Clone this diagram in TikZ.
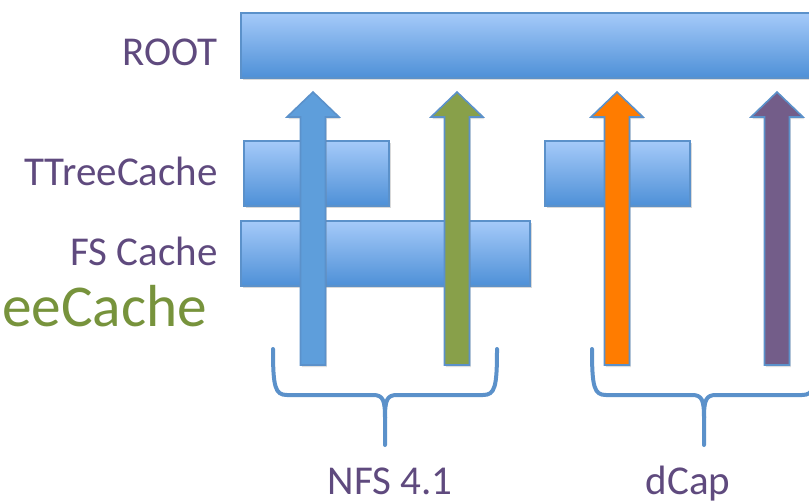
\documentclass[tikz,border=0pt]{standalone}
\usepackage{fontspec}
\setmainfont{Carlito}
\usetikzlibrary{shadows}
\definecolor{labelpurple}{HTML}{5F4A7E}
\definecolor{labelgreen}{HTML}{77933C}
\definecolor{boxtop}{HTML}{A5CAF9}
\definecolor{boxbottom}{HTML}{4E90D7}
\definecolor{edgeblue}{HTML}{5B91CA}
\definecolor{arrowblue}{HTML}{5E9EDB}
\definecolor{arrowgreen}{HTML}{88A04A}
\definecolor{arroworange}{HTML}{FF7C00}
\definecolor{arrowpurple}{HTML}{735D89}

\begin{document}
\begin{tikzpicture}[x=0.75pt, y=-0.75pt,
  cachebox/.style={draw=edgeblue, line width=1.2pt, top color=boxtop, bottom color=boxbottom,
    anchor=north west, inner sep=0pt, minimum height=48.75pt,
    drop shadow={opacity=0.3, shadow xshift=1.5pt, shadow yshift=-2pt}},
  lbl/.style={anchor=base east, text=labelpurple, font=\fontsize{30.75}{36}\selectfont, inner sep=0pt},
  blockarrow/.style={draw=edgeblue, line width=1.2pt,
    drop shadow={opacity=0.25, shadow xshift=1pt, shadow yshift=-1.5pt}},
  bracket/.style={draw=edgeblue, line width=3pt, line cap=round}]

  \useasboundingbox (0,0) rectangle (809,503);

  % Cache layers
  \node[cachebox, minimum width=442.5pt] (root) at (240,12) {};
  \node[cachebox, minimum width=108.75pt] (tcnfs) at (243,140) {};
  \node[cachebox, minimum width=108.75pt] (tcdcap) at (544,140) {};
  \node[cachebox, minimum width=216.75pt] (fs) at (240,220) {};

  % Layer labels
  \node[lbl] (rootlbl) at (218,65) {ROOT};
  \node[lbl] (tclbl) at (218,185) {TTreeCache};
  \node[lbl] (fslbl) at (218,265) {FS Cache};
  \node[anchor=base west, text=labelgreen, font=\fontsize{44.5}{50}\selectfont, inner sep=0pt]
    (eelbl) at (2,326) {eeCache};

  % Read paths up to ROOT
  \foreach \ax/\acol in {313/arrowblue, 457/arrowgreen, 617/arroworange, 777/arrowpurple} {
    \draw[blockarrow, fill=\acol] (\ax-12.5,365) -- (\ax-12.5,117) -- (\ax-26,117) -- (\ax,92)
      -- (\ax+26,117) -- (\ax+12.5,117) -- (\ax+12.5,365) -- cycle;
  }

  % Braces under each protocol
  \foreach \bl/\bc in {273/385, 592/704} {
    \draw[bracket] (\bl,349) .. controls (\bl,387) and (\bl+2,395) .. (\bl+14,395)
      -- (\bc-12,395) .. controls (\bc-2,395) and (\bc,400) .. (\bc,418) -- (\bc,445);
    \draw[bracket] (2*\bc-\bl,349) .. controls (2*\bc-\bl,387) and (2*\bc-\bl-2,395) .. (2*\bc-\bl-14,395)
      -- (\bc+12,395) .. controls (\bc+2,395) and (\bc,400) .. (\bc,418);
  }

  \node[anchor=base, text=labelpurple, font=\fontsize{30.75}{36}\selectfont, inner sep=0pt]
    (nfs) at (390,494) {NFS 4.1};
  \node[anchor=base, text=labelpurple, font=\fontsize{30.75}{36}\selectfont, inner sep=0pt]
    (dcap) at (688,494) {dCap};

\end{tikzpicture}
\end{document}
